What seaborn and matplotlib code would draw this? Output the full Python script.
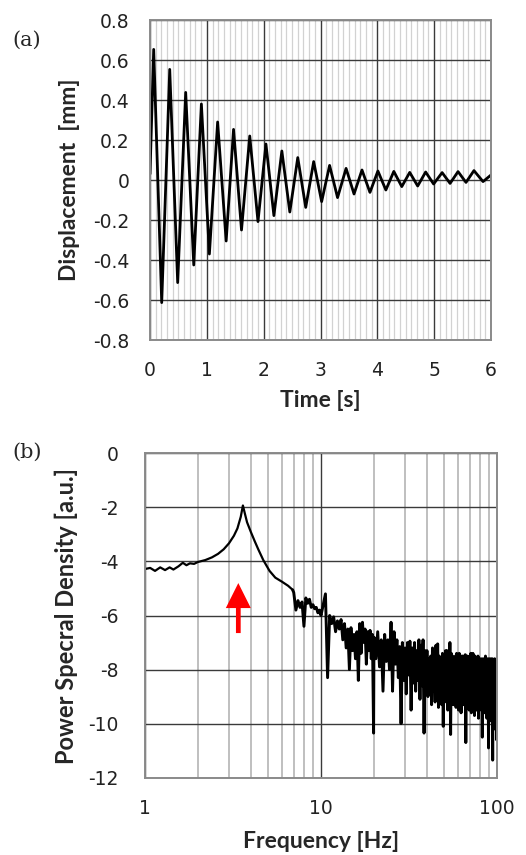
import numpy as np
import pandas as pd
import matplotlib
matplotlib.use("Agg")
import matplotlib.pyplot as plt
import seaborn as sns
from matplotlib.ticker import FixedLocator, NullFormatter

# ---------------- data: (a) displacement time history (extrema)
time_s = [0.0, 0.065, 0.206, 0.347, 0.487, 0.628, 0.77, 0.904, 1.045, 1.19, 1.34,
          1.47, 1.61, 1.755, 1.90, 2.04, 2.18, 2.32, 2.46, 2.60, 2.74, 2.88, 3.02,
          3.16, 3.30, 3.45, 3.59, 3.73, 3.87, 4.01, 4.15, 4.29, 4.43, 4.57, 4.71,
          4.85, 4.99, 5.14, 5.28, 5.42, 5.56, 5.70, 5.86, 6.0]
disp_mm = [0.03, 0.653, -0.613, 0.553, -0.513, 0.438, -0.425, 0.38, -0.37, 0.29,
           -0.305, 0.253, -0.25, 0.22, -0.208, 0.18, -0.178, 0.145, -0.16, 0.112,
           -0.137, 0.092, -0.108, 0.073, -0.088, 0.058, -0.07, 0.05, -0.062, 0.045,
           -0.05, 0.043, -0.033, 0.038, -0.03, 0.04, -0.02, 0.037, -0.017, 0.042,
           -0.012, 0.047, -0.008, 0.025]

# ---------------- data: (b) power spectral density
freq_smooth = [1.0, 1.07, 1.14, 1.22, 1.3, 1.38, 1.45, 1.55, 1.64, 1.72, 1.8, 1.9,
               2.0, 2.2, 2.4, 2.6, 2.8, 3.0, 3.2, 3.35, 3.5, 3.6, 3.7, 3.8, 4.0,
               4.2, 4.4, 4.7, 5.1, 5.5, 6.0, 6.5, 6.9]
psd_smooth = [-4.28, -4.24, -4.35, -4.22, -4.32, -4.22, -4.30, -4.18, -4.05, -4.14,
              -4.07, -4.09, -4.02, -3.95, -3.85, -3.72, -3.55, -3.33, -3.05, -2.78,
              -2.35, -1.93, -2.25, -2.55, -2.92, -3.25, -3.55, -3.95, -4.35, -4.60,
              -4.75, -4.90, -5.05]

freq_mid = [7.0, 7.2, 7.4, 7.6, 7.8, 8.0, 8.2, 8.4, 8.6, 8.8, 9.0, 9.2, 9.4, 9.6, 9.8,
            10.0, 10.3, 10.6, 10.9, 11.2, 11.5, 11.8, 12.1, 12.4, 12.7, 13.0, 13.3,
            13.6, 13.9, 14.2, 14.5, 14.8, 15.1, 15.4, 15.7, 16.0, 16.3, 16.6, 16.9,
            17.2, 17.5, 17.8, 18.1, 18.4, 18.7, 19.0, 19.3, 19.6, 19.9,
            20.0, 20.5, 21.0, 21.5, 22.0, 22.5, 23.0, 23.5, 24.0, 24.5, 25.0, 25.5,
            26.0, 26.5, 27.0, 27.5, 28.0, 28.5, 29.0, 29.5, 30.0, 30.5, 31.0, 31.5,
            32.0, 32.5, 33.0, 33.5, 34.0, 34.5, 35.0, 35.5, 36.0, 36.5, 37.0, 37.5,
            38.0, 38.5, 39.0, 39.5]
psd_mid = [-5.15, -5.80, -5.45, -5.70, -5.50, -6.40, -5.35, -5.55, -5.40, -5.70,
           -5.60, -5.75, -5.70, -5.90, -5.80,
           -6.0, -5.6, -5.2, -8.3, -6.0, -6.3, -6.05, -6.6, -6.2, -6.5, -6.15, -6.9,
           -6.3, -7.2, -6.5, -8.0, -6.45, -7.3, -6.7, -7.6, -6.6, -8.4, -6.3, -7.4,
           -6.25, -7.0, -6.5, -7.8, -6.6, -7.3, -6.55, -7.6, -6.7, -10.35,
           -6.8, -7.6, -6.6, -7.9, -6.9, -8.8, -6.7, -7.7, -6.9, -8.0, -6.25, -8.8,
           -6.6, -7.8, -6.9, -8.3, -7.15, -10.0, -7.0, -8.4, -7.2, -8.9, -7.0, -8.2,
           -6.95, -9.5, -7.2, -8.5, -7.0, -8.8, -7.3, -8.4, -6.9, -9.1, -7.1, -8.6,
           -6.9, -10.35, -7.3, -8.7]

freq_high = [40, 40.5, 41, 41.5, 42, 42.5, 43, 43.5, 44, 44.5, 45, 45.5, 46, 46.5,
             47, 47.5, 48, 48.5, 49, 49.5, 50, 50.5, 51, 51.5, 52, 52.5, 53, 53.5,
             54, 54.5, 55, 55.5, 56, 56.5, 57, 57.5, 58, 58.5, 59, 59.5, 60, 60.5,
             61, 61.5, 62, 62.5, 63, 63.5, 64, 64.5, 65, 65.5, 66, 66.5, 67, 67.5,
             68, 68.5, 69, 69.5, 70, 70.5, 71, 71.5, 72, 72.5, 73, 73.5, 74, 74.5,
             75, 75.5, 76, 76.5, 77, 77.5, 78, 78.5, 79, 79.5, 80, 80.5, 81, 81.5,
             82, 82.5, 83, 83.5, 84, 84.5, 85, 85.5, 86, 86.5, 87, 87.5, 88, 88.5,
             89, 89.5, 90, 90.5, 91, 91.5, 92, 92.5, 93, 93.5, 94, 94.5, 95, 95.5,
             96, 96.5, 97, 97.5, 98, 98.5, 99, 99.5, 100]
psd_high = [-7.3, -9.0, -7.6, -8.9, -7.5, -9.3, -7.2, -8.8, -7.4, -9.2, -7.1, -9.0,
            -7.05, -9.4, -7.5, -8.9, -7.6, -9.3, -7.4, -10.1, -7.5, -9.2, -7.3, -9.0,
            -7.3, -9.5, -7.6, -9.1, -7.0, -10.4, -7.4, -9.0, -7.5, -9.3, -7.7, -9.1,
            -7.5, -9.4, -7.4, -9.0, -7.6, -9.5, -7.4, -9.2, -7.7, -9.6, -7.5, -9.0,
            -7.5, -9.3, -7.6, -9.2, -7.45, -10.7, -7.6, -9.3, -7.5, -9.1, -7.7, -9.5,
            -7.5, -9.3, -7.4, -9.6, -7.6, -9.1, -7.4, -9.4, -7.6, -9.7, -7.5, -9.2,
            -7.6, -9.5, -7.7, -9.3, -7.5, -9.8, -7.6, -9.4, -7.6, -9.2, -7.7, -9.5,
            -7.6, -10.5, -7.8, -9.3, -7.6, -9.6, -7.7, -9.2, -7.5, -9.5, -7.8, -9.8,
            -7.6, -9.4, -7.7, -10.9, -7.6, -9.5, -7.8, -9.3, -7.6, -9.9, -7.7, -9.6,
            -7.6, -11.35, -7.8, -9.4, -7.7, -9.6, -7.6, -10.2, -7.8, -9.5, -7.7, -10.6,
            -7.7]

disp_yticks = [-0.8, -0.6, -0.4, -0.2, 0, 0.2, 0.4, 0.6, 0.8]
disp_ylabels = ["-0.8", "-0.6", "-0.4", "-0.2", "0", "0.2", "0.4", "0.6", "0.8"]
time_ticks = [0, 1, 2, 3, 4, 5, 6]
psd_yticks = [-12, -10, -8, -6, -4, -2, 0]
psd_ylabels = ["-12", "-10", "-8", "-6", "-4", "-2", "0"]
freq_ticks = [1, 10, 100]
freq_labels = ["1", "10", "100"]
peak_freq = 3.39

# ---------------- style
sns.set_style("white")
plt.rcParams['font.family'] = ['DejaVu Sans']
plt.rcParams['axes.unicode_minus'] = False

W, H = 526, 855
fig = plt.figure(figsize=(W / 100, H / 100), dpi=100)

def frac(l, t, r, b):
    return [l / W, 1 - b / H, (r - l) / W, (b - t) / H]

tick_fs = 13.5
lab_fs = 16.5
lab_family = ['Lato', 'DejaVu Sans']
dark = '#3a3a3a'
frame = '#8a8a8a'

# ---------- (a)
ax1 = fig.add_axes(frac(150, 20, 491, 340))
df_a = pd.DataFrame({"t": time_s, "d": disp_mm})
sns.lineplot(data=df_a, x="t", y="d", ax=ax1, color='black', lw=2.0,
             estimator=None, sort=False)
ax1.set_xlim(0, 6)
ax1.set_ylim(-0.8, 0.8)
ax1.xaxis.set_major_locator(FixedLocator(time_ticks))
ax1.xaxis.set_minor_locator(FixedLocator([i / 10 for i in range(61) if i % 10]))
ax1.set_yticks(disp_yticks)
ax1.set_yticklabels(disp_ylabels)
ax1.set_xticklabels([str(v) for v in time_ticks])
ax1.grid(which='minor', axis='x', color='#d2d2d2', lw=0.9)
ax1.grid(which='major', axis='both', color=dark, lw=1.0)
ax1.set_axisbelow(True)
ax1.tick_params(axis='both', which='both', length=0, labelsize=tick_fs, colors='#222222')
ax1.tick_params(axis='y', pad=15)
ax1.tick_params(axis='x', pad=15)
ax1.set_xlabel("Time [s]", fontsize=lab_fs, fontweight='bold', family=lab_family)
ax1.set_ylabel("Displacement  [mm]", fontsize=lab_fs, fontweight='bold', family=lab_family)
ax1.xaxis.set_label_coords(0.5, -0.155)
ax1.yaxis.set_label_coords(-0.205, 0.5)
for s in ax1.spines.values():
    s.set_color(frame)
    s.set_linewidth(1.4)

fig.text(12 / W, 1 - 40 / H, "(a)", family=['DejaVu Serif'], fontsize=15,
         va='center', ha='left')

# ---------- (b)
ax2 = fig.add_axes(frac(145, 453.3, 497, 777.7))
df_smooth = pd.DataFrame({"f": freq_smooth, "p": psd_smooth})
df_noisy = pd.DataFrame({"f": freq_smooth[-1:] + freq_mid + freq_high,
                         "p": psd_smooth[-1:] + psd_mid + psd_high})
sns.lineplot(data=df_smooth, x="f", y="p", ax=ax2, color='black', lw=1.6,
             estimator=None, sort=False)
sns.lineplot(data=df_noisy, x="f", y="p", ax=ax2, color='black', lw=2.1,
             estimator=None, sort=False)
ax2.set_xscale('log')
ax2.set_xlim(1, 100)
ax2.set_ylim(-12, 0)
ax2.xaxis.set_major_locator(FixedLocator(freq_ticks))
ax2.xaxis.set_minor_locator(FixedLocator([m * d for d in (1, 10) for m in range(2, 10)]))
ax2.xaxis.set_minor_formatter(NullFormatter())
ax2.set_xticklabels(freq_labels)
ax2.set_yticks(psd_yticks)
ax2.set_yticklabels(psd_ylabels)
ax2.grid(which='minor', axis='x', color='#b4b4b4', lw=1.2)
ax2.grid(which='major', axis='both', color=dark, lw=1.0)
ax2.set_axisbelow(True)
ax2.tick_params(axis='both', which='both', length=0, labelsize=tick_fs, colors='#222222')
ax2.tick_params(axis='y', pad=19)
ax2.tick_params(axis='x', pad=15)
ax2.set_xlabel("Frequency [Hz]", fontsize=lab_fs, fontweight='bold', family=lab_family)
ax2.set_ylabel("Power Specral Density [a.u.]", fontsize=17, fontweight='bold',
               family=lab_family)
ax2.xaxis.set_label_coords(0.5, -0.165)
ax2.yaxis.set_label_coords(-0.19, 0.5)
for s in ax2.spines.values():
    s.set_color(frame)
    s.set_linewidth(1.4)

ax2.annotate("", xy=(peak_freq, -4.8), xytext=(peak_freq, -6.65),
             arrowprops=dict(arrowstyle="simple,head_width=18,head_length=18,tail_width=3.4",
                             mutation_scale=1, color='#ff0000', shrinkA=0, shrinkB=0, lw=0))

fig.text(12 / W, 1 - 452 / H, "(b)", family=['DejaVu Serif'], fontsize=15,
         va='center', ha='left')

fig.savefig("out.png", dpi=100)
